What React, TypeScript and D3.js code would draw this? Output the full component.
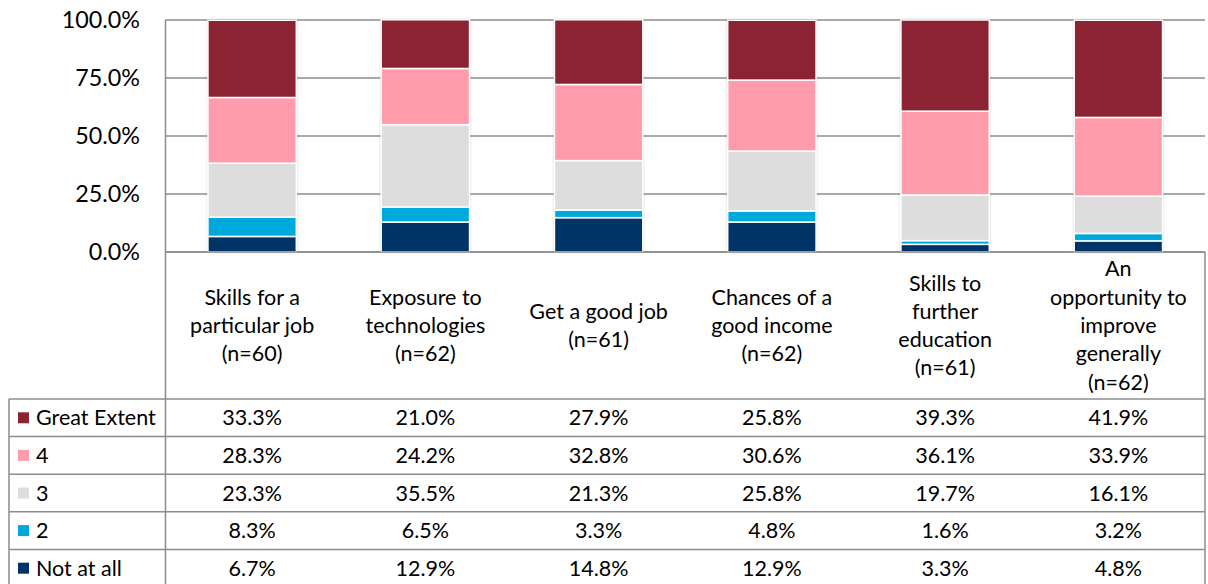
import React from "react";
import * as d3 from "d3";

const categories = [
  ["Skills for a", "particular job", "(n=60)"],
  ["Exposure to", "technologies", "(n=62)"],
  ["Get a good job", "(n=61)"],
  ["Chances of a", "good income", "(n=62)"],
  ["Skills to", "further", "education", "(n=61)"],
  ["An", "opportunity to", "improve", "generally", "(n=62)"],
];

// Series listed top-to-bottom as in the data table
const seriesNames = ["Great Extent", "4", "3", "2", "Not at all"];
const seriesColors = ["#8B2332", "#FF9BAA", "#DDDDDD", "#00A9DC", "#003366"];

const greatExtent = [33.3, 21.0, 27.9, 25.8, 39.3, 41.9];
const four = [28.3, 24.2, 32.8, 30.6, 36.1, 33.9];
const three = [23.3, 35.5, 21.3, 25.8, 19.7, 16.1];
const two = [8.3, 6.5, 3.3, 4.8, 1.6, 3.2];
const notAtAll = [6.7, 12.9, 14.8, 12.9, 3.3, 4.8];

const yTicks = [0, 25, 50, 75, 100];

const W = 1208;
const H = 584;
const plotLeft = 165.5;
const plotRight = 1205;
const plotTop = 20;
const plotBottom = 252;
const tableLeft = 9;
const headerBottom = 399;
const rowH = 37.6;
const FONT = "Lato, 'Open Sans', sans-serif";
const TABLE_FS = 21.5;

export default function App() {
  const seriesValues = [greatExtent, four, three, two, notAtAll];
  const x = d3
    .scaleBand<number>()
    .domain(d3.range(categories.length))
    .range([plotLeft, plotRight])
    .paddingInner(0.49)
    .paddingOuter(0.245);
  const y = d3.scaleLinear().domain([0, 100]).range([plotBottom, plotTop]);

  // Stack from the bottom: "Not at all" first, "Great Extent" last
  const stackOrder = [4, 3, 2, 1, 0];
  const segments: { cat: number; s: number; y0: number; y1: number }[] = [];
  categories.forEach((_, ci) => {
    let acc = 0;
    stackOrder.forEach((si) => {
      const v = seriesValues[si][ci];
      segments.push({ cat: ci, s: si, y0: acc, y1: acc + v });
      acc += v;
    });
  });

  const catCenter = (i: number) => (x(i) as number) + x.bandwidth() / 2;
  const lineColor = "#8C8C8C";

  return (
    <svg width={W} height={H} style={{ position: "absolute", left: 0, top: 0, background: "#fff" }}>
      <defs>
        <filter id="barShadow" x="-20%" y="-20%" width="140%" height="140%">
          <feDropShadow dx="0" dy="0" stdDeviation="1.6" floodColor="#000" floodOpacity="0.28" />
        </filter>
      </defs>

      {/* gridlines */}
      {yTicks.map((t) => (
        <line key={"g" + t} x1={plotLeft} x2={plotRight} y1={y(t)} y2={y(t)} stroke={lineColor} strokeWidth={1.5} />
      ))}

      {/* y tick labels */}
      {yTicks.map((t) => (
        <text key={"t" + t} x={140} y={y(t)} dy="0.35em" textAnchor="end" fontFamily={FONT} fontSize={23.3} fill="#000">
          {d3.format(".1f")(t) + "%"}
        </text>
      ))}

      {/* stacked bars */}
      {categories.map((_, ci) => {
        const top = d3.max(segments.filter((s) => s.cat === ci), (s) => s.y1) as number;
        return (
          <rect
            key={"sh" + ci}
            x={x(ci)}
            y={y(top)}
            width={x.bandwidth()}
            height={y(0) - y(top)}
            fill="#fff"
            filter="url(#barShadow)"
          />
        );
      })}
      {segments.map((sg, i) => (
        <rect
          key={"b" + i}
          x={x(sg.cat)}
          y={y(sg.y1)}
          width={x.bandwidth()}
          height={Math.max(0, y(sg.y0) - y(sg.y1))}
          fill={seriesColors[sg.s]}
          stroke="#fff"
          strokeWidth={1.5}
        />
      ))}

      {/* table frame */}
      <line x1={plotLeft} x2={plotLeft} y1={plotTop} y2={H + 5} stroke={lineColor} strokeWidth={1.5} />
      <line x1={plotRight} x2={plotRight} y1={plotBottom} y2={H + 5} stroke={lineColor} strokeWidth={1.5} />
      <line x1={tableLeft} x2={tableLeft} y1={headerBottom} y2={H + 5} stroke={lineColor} strokeWidth={1.5} />
      <line x1={plotLeft} x2={plotRight} y1={plotBottom} y2={plotBottom} stroke={lineColor} strokeWidth={1.5} />
      {d3.range(seriesNames.length + 1).map((r) => (
        <line
          key={"r" + r}
          x1={tableLeft}
          x2={plotRight}
          y1={headerBottom + r * rowH}
          y2={headerBottom + r * rowH}
          stroke={lineColor}
          strokeWidth={1.5}
        />
      ))}

      {/* category headers */}
      {categories.map((lines, ci) => {
        const lh = 28.3;
        const cy = (plotBottom + headerBottom) / 2;
        const start = cy - ((lines.length - 1) * lh) / 2;
        return (
          <text key={"c" + ci} textAnchor="middle" fontFamily={FONT} fontSize={TABLE_FS} fill="#000">
            {lines.map((ln, li) => (
              <tspan key={li} x={catCenter(ci)} y={start + li * lh} dy="0.35em">
                {ln}
              </tspan>
            ))}
          </text>
        );
      })}

      {/* data rows */}
      {seriesNames.map((name, si) => {
        const cy = headerBottom + si * rowH + rowH / 2;
        return (
          <g key={"row" + si}>
            <rect x={18} y={cy - 5.5} width={11} height={11} fill={seriesColors[si]} />
            <text x={36} y={cy} dy="0.35em" fontFamily={FONT} fontSize={TABLE_FS} fill="#000">
              {name}
            </text>
            {seriesValues[si].map((v, ci) => (
              <text
                key={ci}
                x={catCenter(ci)}
                y={cy}
                dy="0.35em"
                textAnchor="middle"
                fontFamily={FONT}
                fontSize={TABLE_FS}
                fill="#000"
              >
                {d3.format(".1f")(v) + "%"}
              </text>
            ))}
          </g>
        );
      })}
    </svg>
  );
}
